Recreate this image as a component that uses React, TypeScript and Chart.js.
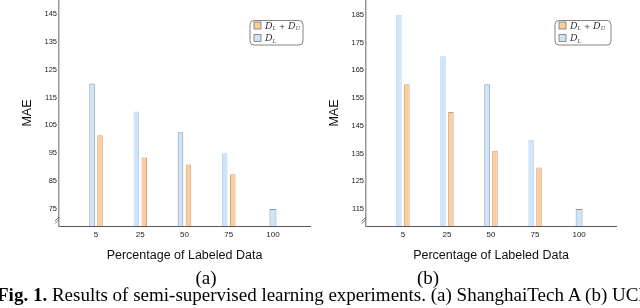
import React, { useEffect, useRef } from 'react';
import { Chart, registerables } from 'chart.js';

Chart.register(...registerables);

// ---- data ----
const percentLabels = ['5', '25', '50', '75', '100'];
const shanghaiLabeledMAE = [120, 110, 102.5, 95, 75];
const shanghaiCombinedMAE = [101.5, 93.5, 91, 87.5, null];
const ucfLabeledMAE = [185, 170, 160, 140, 115];
const ucfCombinedMAE = [160, 150, 136, 130, null];
const shanghaiYTicks = [75, 85, 95, 105, 115, 125, 135, 145];
const ucfYTicks = [115, 125, 135, 145, 155, 165, 175, 185];

const BLUE = '#cde4fa';
const ORANGE = '#ffcc99';
const SANS = '"Liberation Sans", Arial, sans-serif';
const SERIF = '"DejaVu Serif", "Liberation Serif", serif';

type Part = { t: string; size: number; italic?: boolean; dy?: number };

function drawParts(ctx: CanvasRenderingContext2D, x: number, y: number, parts: Part[]) {
  for (const p of parts) {
    ctx.font = `${p.italic ? 'italic ' : ''}${p.size}px ${SERIF}`;
    ctx.fillText(p.t, x, y + (p.dy || 0));
    x += ctx.measureText(p.t).width;
  }
}

const decorPlugin = {
  id: 'decor',
  afterDraw(chart: any, _args: any, opts: any) {
    const ctx: CanvasRenderingContext2D = chart.ctx;
    const a = chart.chartArea;
    ctx.save();
    // axis break marks
    ctx.strokeStyle = '#555';
    ctx.lineWidth = 0.8;
    const bx = a.left - 2;
    const by = a.bottom - 7;
    for (const d of [0, 2.5]) {
      ctx.beginPath();
      ctx.moveTo(bx - 2, by + 2 + d);
      ctx.lineTo(bx + 2, by - 2 + d);
      ctx.stroke();
    }
    // legend box
    const lx = opts.left;
    const ly = 20.5;
    const lw = opts.width;
    const lh = 24.5;
    ctx.strokeStyle = '#666';
    ctx.lineWidth = 0.8;
    ctx.beginPath();
    (ctx as any).roundRect(lx, ly, lw, lh, 4);
    ctx.stroke();
    const rows = [
      { color: ORANGE, cy: 25.5, parts: [
        { t: 'D', size: 9.5, italic: true },
        { t: 'L', size: 5.5, italic: true, dy: 1.5 },
        { t: ' + ', size: 8 },
        { t: 'D', size: 9.5, italic: true },
        { t: 'U', size: 5.5, italic: true, dy: 1.5 },
      ] },
      { color: BLUE, cy: 38, parts: [
        { t: 'D', size: 9.5, italic: true },
        { t: 'L', size: 5.5, italic: true, dy: 1.5 },
      ] },
    ];
    for (const r of rows) {
      ctx.fillStyle = r.color;
      ctx.fillRect(lx + 4, r.cy - 3.5, 7, 7);
      ctx.strokeStyle = '#777';
      ctx.lineWidth = 0.8;
      ctx.strokeRect(lx + 4, r.cy - 3.5, 7, 7);
      ctx.fillStyle = '#333';
      ctx.textBaseline = 'alphabetic';
      drawParts(ctx, lx + 15, r.cy + 3, r.parts);
    }
    ctx.restore();
  },
};

type PanelProps = {
  labeled: (number | null)[];
  combined: (number | null)[];
  yTicks: number[];
  yMin: number;
  yMax: number;
  yWidth: number;
  rightPad: number;
  titlePad: number;
  legendLeft: number;
  legendWidth: number;
  blueBorders: string[];
  left: number;
};

function Panel(p: PanelProps) {
  const ref = useRef<HTMLCanvasElement>(null);
  useEffect(() => {
    const chart = new Chart(ref.current as HTMLCanvasElement, {
      type: 'bar',
      data: {
        datasets: [
          {
            label: 'D_L',
            data: p.labeled.map((v, i) => ({ x: i, y: v })) as any,
            backgroundColor: BLUE,
            borderColor: p.blueBorders,
            borderWidth: 1,
            categoryPercentage: 0.36,
            barPercentage: 0.7,
            maxBarThickness: 7,
            skipNull: true,
          } as any,
          {
            label: 'D_L + D_U',
            data: p.combined.map((v, i) => ({ x: i, y: v })) as any,
            backgroundColor: ORANGE,
            borderColor: '#c4a283',
            borderWidth: 1,
            categoryPercentage: 0.36,
            barPercentage: 0.7,
            maxBarThickness: 7,
            skipNull: true,
          } as any,
        ],
      },
      options: {
        animation: false,
        responsive: false,
        layout: { padding: { top: 0, left: 0, bottom: 0, right: p.rightPad } },
        plugins: {
          legend: { display: false },
          tooltip: { enabled: false },
          decor: { left: p.legendLeft, width: p.legendWidth },
        } as any,
        scales: {
          x: {
            type: 'linear',
            min: -0.27,
            max: 4.27,
            grid: { display: false, drawTicks: false },
            border: { display: true, color: '#555', width: 1 },
            afterBuildTicks: (s: any) => {
              s.ticks = percentLabels.map((_, i) => ({ value: i }));
            },
            ticks: {
              callback: (v: any) => percentLabels[Math.round(v)],
              font: { family: SANS, size: 8 },
              color: '#222',
              padding: 4,
              maxRotation: 0,
              autoSkip: false,
            },
            title: {
              display: true,
              text: 'Percentage of Labeled Data',
              font: { family: SANS, size: 12.5 },
              color: '#111',
              padding: { top: 0, bottom: 5 },
            },
            afterFit: (s: any) => {
              s.height = 42;
              s.paddingLeft = 0;
              s.paddingRight = 0;
            },
          },
          y: {
            min: p.yMin,
            max: p.yMax,
            grid: { display: false, drawTicks: false },
            border: { display: true, color: '#999', width: 1.5 },
            afterBuildTicks: (s: any) => {
              s.ticks = p.yTicks.map((v) => ({ value: v }));
            },
            ticks: {
              font: { family: SANS, size: 7.5 },
              color: '#222',
              padding: 2,
            },
            title: {
              display: true,
              text: 'MAE',
              font: { family: SANS, size: 12.5 },
              color: '#111',
              padding: { top: p.titlePad, bottom: 0 },
            },
            afterFit: (s: any) => {
              s.width = p.yWidth;
              s.paddingTop = 0;
              s.paddingBottom = 0;
            },
          },
        } as any,
      },
      plugins: [decorPlugin],
    });
    return () => chart.destroy();
  }, []);
  return (
    <canvas
      ref={ref}
      width={320}
      height={268}
      style={{ position: 'absolute', left: p.left, top: 0, width: 320, height: 268 }}
    />
  );
}

export default function App() {
  const gray = '#8d9aa6';
  const light = '#b7d3ef';
  const capFont = '19px "Liberation Serif", serif';
  return (
    <div
      style={{
        position: 'fixed',
        left: 0,
        top: 0,
        width: 640,
        height: 308,
        overflow: 'hidden',
        background: '#fff',
      }}
    >
      <Panel
        labeled={shanghaiLabeledMAE}
        combined={shanghaiCombinedMAE}
        yTicks={shanghaiYTicks}
        yMin={68.9}
        yMax={150}
        yWidth={59}
        rightPad={10}
        titlePad={20.5}
        legendLeft={250}
        legendWidth={53}
        blueBorders={[gray, light, gray, light, gray]}
        left={0}
      />
      <Panel
        labeled={ucfLabeledMAE}
        combined={ucfCombinedMAE}
        yTicks={ucfYTicks}
        yMin={108.9}
        yMax={190.3}
        yWidth={46}
        rightPad={24}
        titlePad={7.5}
        legendLeft={235}
        legendWidth={56}
        blueBorders={[light, light, gray, light, gray]}
        left={320}
      />
      <div style={{ position: 'absolute', left: 190, top: 268, font: capFont, lineHeight: '19px', width: 32, textAlign: 'center' }}>(a)</div>
      <div style={{ position: 'absolute', left: 412, top: 268, font: capFont, lineHeight: '19px', width: 32, textAlign: 'center' }}>(b)</div>
      <div
        style={{
          position: 'absolute',
          left: -3,
          top: 285,
          whiteSpace: 'nowrap',
          font: capFont,
          lineHeight: '19px',
          color: '#000',
        }}
      >
        <b>Fig. 1.</b> Results of semi-supervised learning experiments. (a) ShanghaiTech A (b) UCF
      </div>
    </div>
  );
}
